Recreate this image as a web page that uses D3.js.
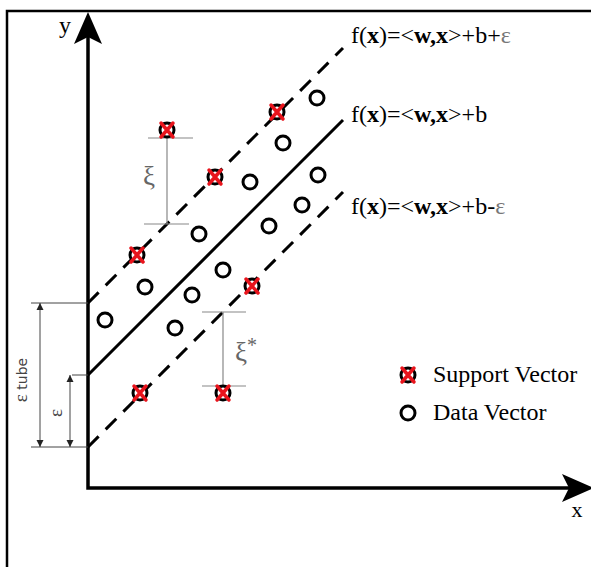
<!DOCTYPE html>
<html>
<head>
<meta charset="utf-8">
<script src="https://cdn.jsdelivr.net/npm/d3@7"></script>
<style>
  body { margin: 0; background: #fff; }
  svg { display: block; }
</style>
</head>
<body>
<script>
// values in plot units, origin = axis corner
const supportVectors = [
  [1.58, 7.16], [2.54, 6.22], [3.78, 7.52], [0.98, 4.66],
  [3.28, 4.04], [1.04, 1.90], [2.70, 1.90]
];
const dataVectors = [
  [4.58, 7.80], [3.90, 6.90], [3.24, 6.12], [4.60, 6.26],
  [4.28, 5.66], [3.62, 5.24], [2.22, 5.08], [2.70, 4.36],
  [1.14, 4.02], [2.08, 3.86], [0.34, 3.36], [1.74, 3.20]
];
const bias = 2.26;
const epsilon = 1.44;
const lineExtent = [0, 5.1];
const lineOffsets = [1, 0, -1]; // multiples of epsilon
const lineLabels = ["f(x)=<w,x>+b+ε", "f(x)=<w,x>+b", "f(x)=<w,x>+b-ε"];
const legendLabels = ["Support Vector", "Data Vector"];
const xiUpper = 0;   // index in supportVectors
const xiLower = 6;

const W = 591, H = 567;
const serif = "'Liberation Serif', 'DejaVu Serif', serif";

const svg = d3.select("body").append("svg")
  .attr("width", W).attr("height", H);

const x = d3.scaleLinear().domain([0, 10]).range([88, 588]);
const y = d3.scaleLinear().domain([0, 10]).range([488, -12]);

// frame
svg.append("rect")
  .attr("x", 7).attr("y", 11)
  .attr("width", 700).attr("height", 700)
  .attr("fill", "none").attr("stroke", "#000").attr("stroke-width", 2.5);

// axes
const yTip = y(9.52), xTip = x(10.12);
svg.append("path")
  .attr("d", `M${x(0)},${yTip + 20}V${y(0)}H${xTip - 20}`)
  .attr("fill", "none").attr("stroke", "#000")
  .attr("stroke-width", 3.5).attr("stroke-linejoin", "miter");

function arrowHead(tx, ty, angle) {
  svg.append("path")
    .attr("d", "M0,0 L-32,-14 L-25,0 L-32,14 Z")
    .attr("transform", `translate(${tx},${ty}) rotate(${angle})`)
    .attr("fill", "#000");
}
arrowHead(x(0), yTip, -90);
arrowHead(xTip, y(0), 0);

svg.append("text").text("y")
  .attr("x", 65).attr("y", 33)
  .attr("font-family", serif).attr("font-size", 24)
  .attr("text-anchor", "middle");
svg.append("text").text("x")
  .attr("x", 577).attr("y", 517)
  .attr("font-family", serif).attr("font-size", 22)
  .attr("text-anchor", "middle");

// regression line and epsilon tube
const line = d3.line().x(d => x(d[0])).y(d => y(d[1]));
lineOffsets.forEach((k, i) => {
  const pts = lineExtent.map(v => [v, v + bias + k * epsilon]);
  svg.append("path")
    .datum(pts)
    .attr("d", line)
    .attr("fill", "none").attr("stroke", "#000")
    .attr("stroke-width", 3)
    .attr("stroke-dasharray", k === 0 ? null : "15,10");
});

// line labels
const labelDy = [-5, 2, 22];
lineLabels.forEach((lab, i) => {
  const yEnd = lineExtent[1] + bias + lineOffsets[i] * epsilon;
  const t = svg.append("text")
    .attr("x", x(lineExtent[1]) + 8)
    .attr("y", y(yEnd) + labelDy[i])
    .attr("font-family", serif).attr("font-size", 24);
  lab.split(/(w,x|x|ε)/).filter(s => s).forEach(s => {
    const sp = t.append("tspan").text(s);
    if (s === "x" || s === "w,x") sp.attr("font-weight", "bold");
    if (s === "ε") sp.attr("fill", "#777");
  });
});

// slack annotations
const gray = "#888";
function bracket(cx, y1, y2, w1, w2) {
  svg.append("line").attr("x1", cx).attr("x2", cx).attr("y1", y1).attr("y2", y2)
    .attr("stroke", gray).attr("stroke-width", 1.2);
  svg.append("line").attr("x1", cx - w1[0]).attr("x2", cx + w1[1]).attr("y1", y1).attr("y2", y1)
    .attr("stroke", gray).attr("stroke-width", 1.2);
  svg.append("line").attr("x1", cx - w2[0]).attr("x2", cx + w2[1]).attr("y1", y2).attr("y2", y2)
    .attr("stroke", gray).attr("stroke-width", 1.2);
}
const su = supportVectors[xiUpper];
bracket(x(su[0]), y(su[1]) + 8, y(su[0] + bias + epsilon), [19, 26], [23, 22]);
svg.append("text").text("ξ")
  .attr("x", x(su[0]) - 18).attr("y", (y(su[1]) + y(su[0] + bias + epsilon)) / 2 + 8)
  .attr("font-family", serif).attr("font-size", 27).attr("fill", "#666")
  .attr("text-anchor", "middle");

const sl = supportVectors[xiLower];
bracket(x(sl[0]), y(sl[0] + bias - epsilon), y(sl[1]) - 7, [21, 23], [21, 23]);
const xs = svg.append("text")
  .attr("x", x(sl[0]) + 12).attr("y", (y(sl[1]) + y(sl[0] + bias - epsilon)) / 2 + 8)
  .attr("font-family", serif).attr("font-size", 27).attr("fill", "#666");
xs.append("tspan").text("ξ");
xs.append("tspan").text("*").attr("dy", -9).attr("font-size", 20);

// tube width annotation
svg.append("defs").append("marker")
  .attr("id", "ah").attr("viewBox", "0 0 10 10")
  .attr("refX", 10).attr("refY", 5)
  .attr("markerWidth", 7).attr("markerHeight", 9)
  .attr("markerUnits", "userSpaceOnUse")
  .attr("orient", "auto-start-reverse")
  .append("path").attr("d", "M0,0L10,5L0,10Z").attr("fill", "#222");

const yTop = y(bias + epsilon), yMid = y(bias), yBot = y(bias - epsilon);
[[31, yTop], [31, yBot], [72, yMid]].forEach(([x1, yy]) => {
  svg.append("line").attr("x1", x1).attr("x2", x(0)).attr("y1", yy).attr("y2", yy)
    .attr("stroke", "#444").attr("stroke-width", 1);
});
[[40, yTop, yBot], [70, yMid, yBot]].forEach(([cx, a, b]) => {
  svg.append("line").attr("x1", cx).attr("x2", cx).attr("y1", a).attr("y2", b)
    .attr("stroke", "#444").attr("stroke-width", 1)
    .attr("marker-start", "url(#ah)").attr("marker-end", "url(#ah)");
});
const tubeLab = svg.append("text")
  .attr("transform", `translate(27,${(yTop + yBot) / 2 + 5}) rotate(-90)`)
  .attr("text-anchor", "middle").attr("font-size", 14).attr("fill", "#444");
tubeLab.append("tspan").text("ε").attr("font-family", serif).attr("font-size", 19);
tubeLab.append("tspan").text(" tube").attr("font-family", "'DejaVu Sans', sans-serif");
svg.append("text").text("ε")
  .attr("transform", `translate(62,${(yMid + yBot) / 2 + 2}) rotate(-90)`)
  .attr("text-anchor", "middle").attr("font-family", serif)
  .attr("font-size", 19).attr("fill", "#444");

// points
function dataMark(g) {
  g.append("circle").attr("r", 7)
    .attr("fill", "#fff").attr("stroke", "#000").attr("stroke-width", 3);
}
function supportMark(g) {
  dataMark(g);
  g.append("path")
    .attr("d", "M-6,-7L6,7M6,-7L-6,7")
    .attr("stroke", "#e8141c").attr("stroke-width", 3.5)
    .attr("stroke-linecap", "round");
}
svg.selectAll("g.dv").data(dataVectors).join("g")
  .attr("class", "dv")
  .attr("transform", d => `translate(${x(d[0])},${y(d[1])})`)
  .call(dataMark);
svg.selectAll("g.sv").data(supportVectors).join("g")
  .attr("class", "sv")
  .attr("transform", d => `translate(${x(d[0])},${y(d[1])})`)
  .call(supportMark);

// legend
const legend = svg.selectAll("g.lg").data(legendLabels).join("g")
  .attr("class", "lg")
  .attr("transform", (d, i) => `translate(408,${375 + i * 38})`);
legend.filter((d, i) => i === 0).call(supportMark);
legend.filter((d, i) => i === 1).call(dataMark);
legend.append("text").text(d => d)
  .attr("x", 25).attr("y", 7)
  .attr("font-family", serif).attr("font-size", 24);
</script>
</body>
</html>
